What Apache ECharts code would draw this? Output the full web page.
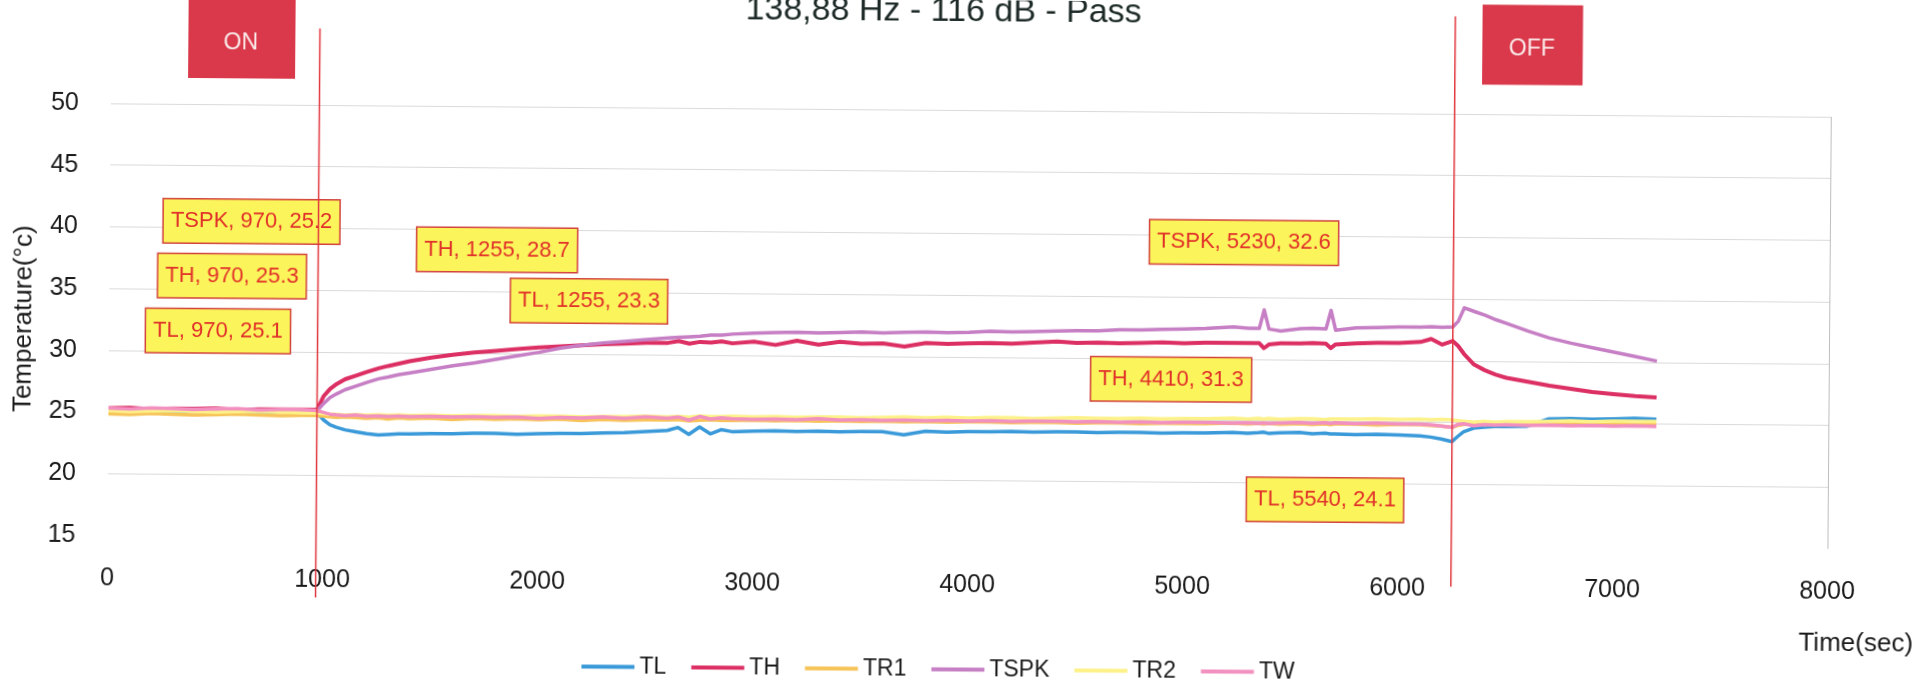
<!DOCTYPE html>
<html>
<head>
<meta charset="utf-8">
<title>138,88 Hz - 116 dB - Pass</title>
<script src="https://cdn.jsdelivr.net/npm/echarts@6/dist/echarts.min.js"></script>
<style>
  html, body { margin: 0; padding: 0; background: #ffffff; overflow: hidden; }
  #chart { width: 1916px; height: 685px; transform: rotate(0.45deg); transform-origin: 50% 50%; }
</style>
</head>
<body>
<div id="chart"></div>
<script>
// ---- measured temperatures (°C) against elapsed time (s) ----
const timeSec = [
  0, 100, 200, 300, 400, 500, 600, 700, 800, 900,
  970, 1000, 1030, 1060, 1100, 1150, 1200, 1255, 1300, 1350,
  1400, 1500, 1600, 1700, 1800, 1900, 2000, 2100, 2200, 2300,
  2400, 2500, 2600, 2650, 2700, 2750, 2800, 2850, 2900, 3000,
  3100, 3200, 3300, 3400, 3500, 3600, 3700, 3800, 3900, 4000,
  4100, 4200, 4300, 4410, 4500, 4600, 4700, 4800, 4900, 5000,
  5100, 5230, 5300, 5350, 5372, 5395, 5450, 5540, 5600, 5660,
  5683, 5705, 5800, 5900, 6000, 6100, 6150, 6200, 6250, 6275,
  6303, 6350, 6400, 6450, 6500, 6600, 6700, 6800, 6900, 7000,
  7100, 7200
];

const TL = [
  25.1, 25.15, 25.05, 25.1, 25.15, 25.1, 25.05, 25.1, 25.15, 25.1,
  25.1, 24.5, 24.1, 23.9, 23.7, 23.55, 23.4, 23.3, 23.35, 23.4,
  23.4, 23.45, 23.45, 23.5, 23.5, 23.45, 23.5, 23.55, 23.55, 23.6,
  23.65, 23.75, 23.85, 24.1, 23.55, 24.15, 23.6, 23.95, 23.8, 23.85,
  23.9, 23.85, 23.9, 23.85, 23.9, 23.9, 23.65, 23.95, 23.9, 23.95,
  23.95, 24.0, 23.95, 24.0, 24.0, 23.95, 24.0, 24.0, 23.95, 24.0,
  24.0, 24.05, 24.0, 24.05, 24.1, 24.0, 24.05, 24.1, 24.0, 24.05,
  24.0, 24.0, 23.95, 24.0, 23.95, 23.9, 23.8, 23.65, 23.45, 23.85,
  24.25, 24.55, 24.65, 24.7, 24.7, 24.75, 25.35, 25.4, 25.35, 25.4,
  25.45, 25.4
];

const TH = [
  25.3, 25.35, 25.25, 25.3, 25.3, 25.35, 25.25, 25.3, 25.3, 25.3,
  25.3, 26.4, 27.0, 27.4, 27.8, 28.1, 28.4, 28.7, 28.9, 29.1,
  29.3, 29.6, 29.85, 30.05, 30.2, 30.35, 30.5, 30.6, 30.7, 30.8,
  30.85, 30.95, 30.95, 31.1, 30.9, 31.05, 31.0, 31.1, 30.95, 31.1,
  30.85, 31.2, 30.9, 31.15, 31.0, 31.05, 30.8, 31.1, 31.05, 31.1,
  31.15, 31.1, 31.2, 31.3, 31.2, 31.25, 31.2, 31.25, 31.3, 31.25,
  31.3, 31.3, 31.3, 31.3, 30.9, 31.2, 31.3, 31.3, 31.35, 31.3,
  30.95, 31.25, 31.35, 31.4, 31.4, 31.5, 31.75, 31.3, 31.6, 31.2,
  30.55, 29.7, 29.25, 28.9, 28.65, 28.35, 28.05, 27.8, 27.55, 27.4,
  27.25, 27.15
];

const TR1 = [
  24.85, 24.8, 24.9, 24.85, 24.8, 24.85, 24.9, 24.85, 24.8, 24.85,
  24.85, 24.8, 24.75, 24.7, 24.75, 24.7, 24.65, 24.7, 24.6, 24.7,
  24.65, 24.7, 24.6, 24.7, 24.65, 24.7, 24.65, 24.7, 24.6, 24.7,
  24.65, 24.7, 24.7, 24.75, 24.65, 24.7, 24.75, 24.7, 24.7, 24.75,
  24.7, 24.75, 24.7, 24.75, 24.7, 24.75, 24.7, 24.75, 24.7, 24.75,
  24.75, 24.7, 24.75, 24.75, 24.7, 24.75, 24.75, 24.7, 24.75, 24.75,
  24.75, 24.8, 24.75, 24.8, 24.75, 24.8, 24.75, 24.8, 24.75, 24.8,
  24.75, 24.8, 24.8, 24.75, 24.8, 24.8, 24.75, 24.7, 24.6, 24.75,
  24.85, 24.9, 24.85, 24.9, 24.9, 24.95, 24.9, 24.95, 24.95, 25.0,
  24.95, 25.0
];

const TSPK = [
  25.25, 25.2, 25.3, 25.2, 25.25, 25.2, 25.3, 25.25, 25.2, 25.25,
  25.2, 25.8, 26.3, 26.6, 26.95, 27.25, 27.55, 27.85, 28.0, 28.2,
  28.35, 28.65, 28.95, 29.2, 29.5, 29.8, 30.1, 30.45, 30.7, 30.9,
  31.05, 31.2, 31.35, 31.4, 31.45, 31.5, 31.6, 31.6, 31.7, 31.8,
  31.85, 31.9, 31.85, 31.9, 31.95, 31.9, 31.95, 32.0, 31.95, 32.0,
  32.1, 32.05, 32.1, 32.15, 32.2, 32.2, 32.3, 32.3, 32.35, 32.4,
  32.45, 32.6, 32.5, 32.5, 34.0, 32.45, 32.3, 32.5, 32.55, 32.5,
  34.0, 32.4, 32.6, 32.65, 32.7, 32.7, 32.75, 32.7, 32.75, 33.2,
  34.3, 34.0, 33.7, 33.35, 33.05, 32.45, 31.9, 31.5, 31.15, 30.8,
  30.45, 30.1
];

const TR2 = [
  25.1, 25.05, 25.1, 25.15, 25.1, 25.05, 25.1, 25.15, 25.1, 25.05,
  25.05, 25.0, 24.95, 24.95, 24.9, 24.95, 24.9, 24.95, 24.9, 24.95,
  24.9, 24.95, 24.9, 24.95, 24.95, 24.9, 24.95, 24.95, 24.9, 24.95,
  24.95, 25.0, 24.95, 25.0, 24.95, 25.05, 25.0, 25.0, 25.05, 25.0,
  25.05, 25.0, 25.05, 25.05, 25.0, 25.05, 25.1, 25.05, 25.1, 25.05,
  25.1, 25.1, 25.05, 25.1, 25.15, 25.1, 25.1, 25.15, 25.1, 25.15,
  25.15, 25.2, 25.15, 25.2, 25.15, 25.2, 25.15, 25.2, 25.2, 25.15,
  25.2, 25.2, 25.2, 25.25, 25.2, 25.25, 25.2, 25.25, 25.2, 25.15,
  25.1, 25.05, 25.1, 25.05, 25.1, 25.1, 25.15, 25.2, 25.15, 25.2,
  25.2, 25.2
];

const TW = [
  25.3, 25.25, 25.35, 25.3, 25.25, 25.3, 25.35, 25.25, 25.3, 25.3,
  25.25, 25.1, 24.95, 24.9, 24.85, 24.9, 24.8, 24.85, 24.8, 24.85,
  24.8, 24.85, 24.8, 24.85, 24.8, 24.85, 24.75, 24.85, 24.8, 24.9,
  24.8, 24.95, 24.85, 24.95, 24.7, 25.0, 24.8, 24.9, 24.85, 24.8,
  24.85, 24.8, 24.9, 24.8, 24.85, 24.8, 24.85, 24.8, 24.85, 24.8,
  24.85, 24.8, 24.85, 24.85, 24.8, 24.85, 24.8, 24.85, 24.8, 24.85,
  24.85, 24.8, 24.85, 24.8, 24.85, 24.8, 24.85, 24.9, 24.85, 24.9,
  24.85, 24.9, 24.85, 24.9, 24.85, 24.85, 24.8, 24.7, 24.6, 24.85,
  24.9, 24.75, 24.85, 24.8, 24.85, 24.8, 24.85, 24.8, 24.85, 24.8,
  24.85, 24.8
];

const seriesNames = ['TL', 'TH', 'TR1', 'TSPK', 'TR2', 'TW'];
const seriesValues = { TL, TH, TR1, TSPK, TR2, TW };

// source switched on / off (s)
const onTime = 970;
const offTime = 6250;

// points called out with a value box
const callouts = [
  { series: 'TSPK', t: 970 },
  { series: 'TH', t: 970 },
  { series: 'TL', t: 970 },
  { series: 'TH', t: 1255 },
  { series: 'TL', t: 1255 },
  { series: 'TSPK', t: 5230 },
  { series: 'TH', t: 4410 },
  { series: 'TL', t: 5540 }
];

// axis ticks
const xAxisRange = { min: 0, max: 8000, step: 1000 };
const yAxisRange = { min: 15, max: 50, step: 5 };

// ---- styling and layout ----
const FONT = '"Liberation Sans", Arial, sans-serif';
const seriesColors = {
  TL: '#3a9ad9', TH: '#dc2f63', TR1: '#f7c45a',
  TSPK: '#c67ec4', TR2: '#fdf28a', TW: '#f290c0'
};
const switchColor = '#e2383f';
const switchLineSpan = { on: [10.1, 56.2], off: [11.7, 57.9] };   // y extent of the switch markers
const calloutCenters = [
  [250.6, 227.0], [231.5, 281.7], [217.9, 336.8], [496.3, 253.6],
  [588.7, 303.9], [1243.2, 240.3], [1171.3, 377.8], [1326.2, 497.1]
];

const chart = echarts.init(document.getElementById('chart'), null, { renderer: 'canvas' });

const lineSeries = seriesNames.map(name => ({
  name,
  type: 'line',
  data: timeSec.map((t, i) => [t, seriesValues[name][i]]),
  showSymbol: false,
  symbol: 'none',
  silent: true,
  z: 2,
  itemStyle: { color: seriesColors[name] },
  lineStyle: { color: seriesColors[name], width: name === 'TH' ? 4 : 3.5, join: 'round' },
  emphasis: { disabled: true }
}));

const calloutSeries = {
  name: 'callouts',
  type: 'scatter',
  silent: true,
  z: 3,
  symbol: 'circle',
  symbolSize: 2,
  itemStyle: { color: 'rgba(0,0,0,0)' },
  data: callouts.map(c => {
    const idx = timeSec.indexOf(c.t);
    return { name: c.series, value: [c.t, seriesValues[c.series][idx]] };
  }),
  label: {
    show: true,
    position: 'top',
    opacity: 1,
    formatter: p => p.name + ', ' + p.value[0] + ', ' + p.value[1].toFixed(1),
    fontFamily: FONT,
    fontSize: 22,
    color: '#e1302a',
    backgroundColor: '#fbf45a',
    borderColor: '#d2423d',
    borderWidth: 1.5,
    padding: [11, 7, 10, 7]
  },
  labelLayout: p => {
    const c = calloutCenters[p.dataIndex];
    return { x: c[0], y: c[1], align: 'center', verticalAlign: 'middle' };
  },
  emphasis: { disabled: true }
};

function switchLine(name, t, span) {
  return {
    name,
    type: 'line',
    data: [[t, span[0]], [t, span[1]]],
    symbol: 'none',
    showSymbol: false,
    clip: false,
    silent: true,
    z: 5,
    lineStyle: { color: switchColor, width: 1.5 },
    emphasis: { disabled: true }
  };
}

const option = {
  animation: false,
  backgroundColor: '#ffffff',
  grid: { left: 109, right: 87, top: 110, bottom: 143, containLabel: false, outerBoundsMode: 'none' },
  xAxis: {
    type: 'value',
    min: xAxisRange.min,
    max: xAxisRange.max,
    interval: xAxisRange.step,
    axisLine: { show: false },
    axisTick: { show: false },
    axisLabel: { fontFamily: FONT, fontSize: 25, color: '#1a1a1a', margin: 31, formatter: v => String(v) },
    splitLine: {
      show: true,
      lineStyle: {
        width: 1,
        color: ['rgba(0,0,0,0)', 'rgba(0,0,0,0)', 'rgba(0,0,0,0)', 'rgba(0,0,0,0)', 'rgba(0,0,0,0)',
                'rgba(0,0,0,0)', 'rgba(0,0,0,0)', 'rgba(0,0,0,0)', '#bdbdbd']
      }
    }
  },
  yAxis: {
    type: 'value',
    min: yAxisRange.min,
    max: yAxisRange.max,
    interval: yAxisRange.step,
    name: 'Temperature(°c)',
    nameLocation: 'middle',
    nameGap: 72,
    nameTextStyle: { fontFamily: FONT, fontSize: 26, color: '#1a1a1a' },
    axisLine: { show: false },
    axisTick: { show: false },
    axisLabel: { fontFamily: FONT, fontSize: 25, color: '#1a1a1a', margin: 32, formatter: v => String(v) },
    splitLine: { show: true, showMinLine: false, lineStyle: { color: '#dadada', width: 1 } }
  },
  legend: {
    data: seriesNames,
    left: 579,
    top: 653,
    icon: 'rect',
    itemWidth: 53,
    itemHeight: 4,
    itemGap: 25,
    selectedMode: false,
    textStyle: { fontFamily: FONT, fontSize: 23, color: '#1a1a1a' }
  },
  graphic: [
    {
      type: 'text', x: 941, y: 12, z: 10,
      style: { text: '138,88 Hz - 116 dB - Pass', font: '34px ' + FONT, fill: '#1d2a27', align: 'center', verticalAlign: 'middle' }
    },
    { type: 'rect', z: 10, shape: { x: 186, y: 0, width: 107, height: 84 }, style: { fill: '#d9394a' } },
    {
      type: 'text', x: 238.6, y: 48.6, z: 11,
      style: { text: 'ON', font: '23px ' + FONT, fill: '#fbecec', align: 'center', verticalAlign: 'middle' }
    },
    { type: 'rect', z: 10, shape: { x: 1480, y: 0.5, width: 100.5, height: 80 }, style: { fill: '#d9394a' } },
    {
      type: 'text', x: 1529.5, y: 44.8, z: 11,
      style: { text: 'OFF', font: '23px ' + FONT, fill: '#fbecec', align: 'center', verticalAlign: 'middle' }
    },
    {
      type: 'text', x: 1858, y: 637, z: 10,
      style: { text: 'Time(sec)', font: '26px ' + FONT, fill: '#1a1a1a', align: 'center', verticalAlign: 'middle' }
    }
  ],
  series: [
    ...lineSeries,
    calloutSeries,
    switchLine('switchOn', onTime, switchLineSpan.on),
    switchLine('switchOff', offTime, switchLineSpan.off)
  ]
};

chart.setOption(option);
</script>
</body>
</html>
